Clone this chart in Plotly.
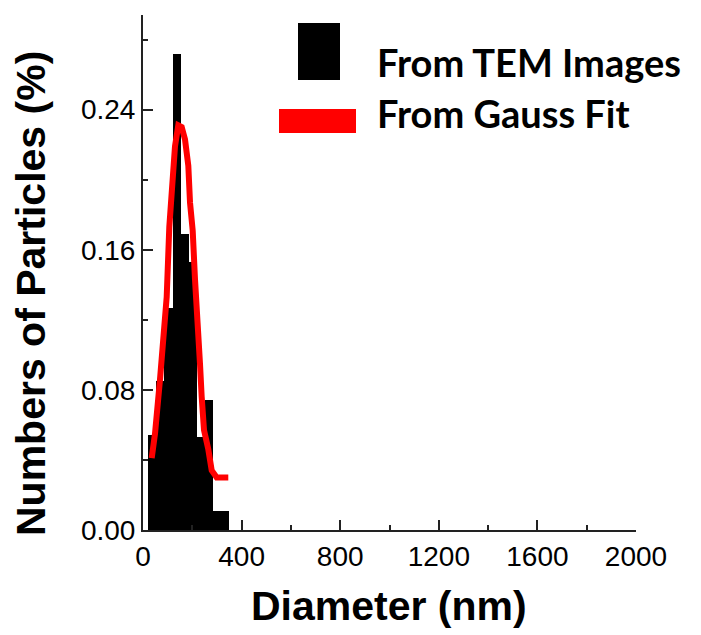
import plotly.graph_objects as go

# ---- data ----
bin_edges_nm = [21.5, 54.3, 87.1, 119.9, 152.7, 185.5, 218.3, 251.1, 283.9, 316.7, 349.5]
tem_fraction = [0.054, 0.085, 0.127, 0.272, 0.169, 0.153, 0.053, 0.074, 0.011, 0.011]

fit_diameter_nm = [35.3, 48.7, 69.0, 82.4, 96.1, 106.7, 120.5, 129.8, 143.2, 157.0, 170.4,
                   183.8, 190.7, 201.6, 211.0, 224.3, 231.2, 238.1, 247.5, 265.0, 278.7, 299.0, 346.0]
fit_fraction = [0.041, 0.055, 0.086, 0.109, 0.133, 0.173, 0.198, 0.219, 0.231, 0.230, 0.223,
                0.208, 0.187, 0.171, 0.143, 0.118, 0.095, 0.076, 0.057, 0.046, 0.034, 0.030, 0.030]

x_ticks = [0, 400, 800, 1200, 1600, 2000]
y_ticks = [0.00, 0.08, 0.16, 0.24]
y_tick_labels = ["0.00", "0.08", "0.16", "0.24"]

legend_labels = ["From TEM Images", "From Gauss Fit"]

# ---- figure geometry ----
W, H = 701, 635
L, R, T, B = 143, 65, 15, 105
PW, PH = W - L - R, H - T - B


def px_x(p):
    return (p - L) / PW


def px_y(p):
    return (H - B - p) / PH


centers = [(a + b) / 2 for a, b in zip(bin_edges_nm[:-1], bin_edges_nm[1:])]
widths = [b - a for a, b in zip(bin_edges_nm[:-1], bin_edges_nm[1:])]

fig = go.Figure()
fig.add_trace(go.Bar(x=centers, y=tem_fraction, width=widths,
                     marker=dict(color="black", line=dict(width=0)),
                     name=legend_labels[0], showlegend=False))
fig.add_trace(go.Scatter(x=fit_diameter_nm, y=fit_fraction, mode="lines",
                         line=dict(color="#FF0000", width=6),
                         name=legend_labels[1], showlegend=False))

tick_font = dict(family="Liberation Sans, Arial, sans-serif", size=28, color="black")
title_font = dict(family="Liberation Sans, Arial, sans-serif", size=41, color="black")

fig.update_xaxes(range=[0, 2000], tickvals=x_ticks, ticktext=[str(v) for v in x_ticks],
                 showline=True, linecolor="#222", linewidth=2, mirror=False,
                 ticks="inside", ticklen=10, tickwidth=2, tickcolor="#222",
                 minor=dict(ticks="inside", ticklen=5, tickwidth=2, tickcolor="#222", dtick=200, tick0=0),
                 showgrid=False, zeroline=False, tickfont=tick_font)
fig.update_yaxes(range=[0, 0.294], tickvals=y_ticks, ticktext=y_tick_labels,
                 showline=True, linecolor="#222", linewidth=2, mirror=False,
                 ticks="inside", ticklen=10, tickwidth=2, tickcolor="#222",
                 minor=dict(ticks="inside", ticklen=5, tickwidth=2, tickcolor="#222", dtick=0.04, tick0=0),
                 showgrid=False, zeroline=False, tickfont=tick_font)

annotations = [
    dict(text="<b>Diameter (nm)</b>", xref="paper", yref="paper", x=px_x(389), y=px_y(606),
         xanchor="center", yanchor="middle", showarrow=False, font=title_font),
    dict(text="<b>Numbers of Particles (%)</b>", xref="paper", yref="paper", x=px_x(31), y=px_y(294),
         xanchor="center", yanchor="middle", showarrow=False, textangle=-90, font=title_font),
]
legend_font = dict(family="Lato, Open Sans, sans-serif", size=38, color="black")
for lbl, yc in zip(legend_labels, [62, 113]):
    annotations.append(dict(text="<b>" + lbl + "</b>", xref="paper", yref="paper",
                            x=px_x(375), y=px_y(yc), xanchor="left", yanchor="middle",
                            showarrow=False, font=legend_font))

shapes = [
    dict(type="rect", xref="paper", yref="paper", x0=px_x(298), x1=px_x(340),
         y0=px_y(80), y1=px_y(23), fillcolor="black", line=dict(width=0)),
    dict(type="rect", xref="paper", yref="paper", x0=px_x(279), x1=px_x(356),
         y0=px_y(133), y1=px_y(109), fillcolor="#FF0000", line=dict(width=0)),
]

fig.update_layout(width=W, height=H, margin=dict(l=L, r=R, t=T, b=B, pad=0),
                  paper_bgcolor="white", plot_bgcolor="white", bargap=0,
                  annotations=annotations, shapes=shapes)

fig.write_html("out.html")
